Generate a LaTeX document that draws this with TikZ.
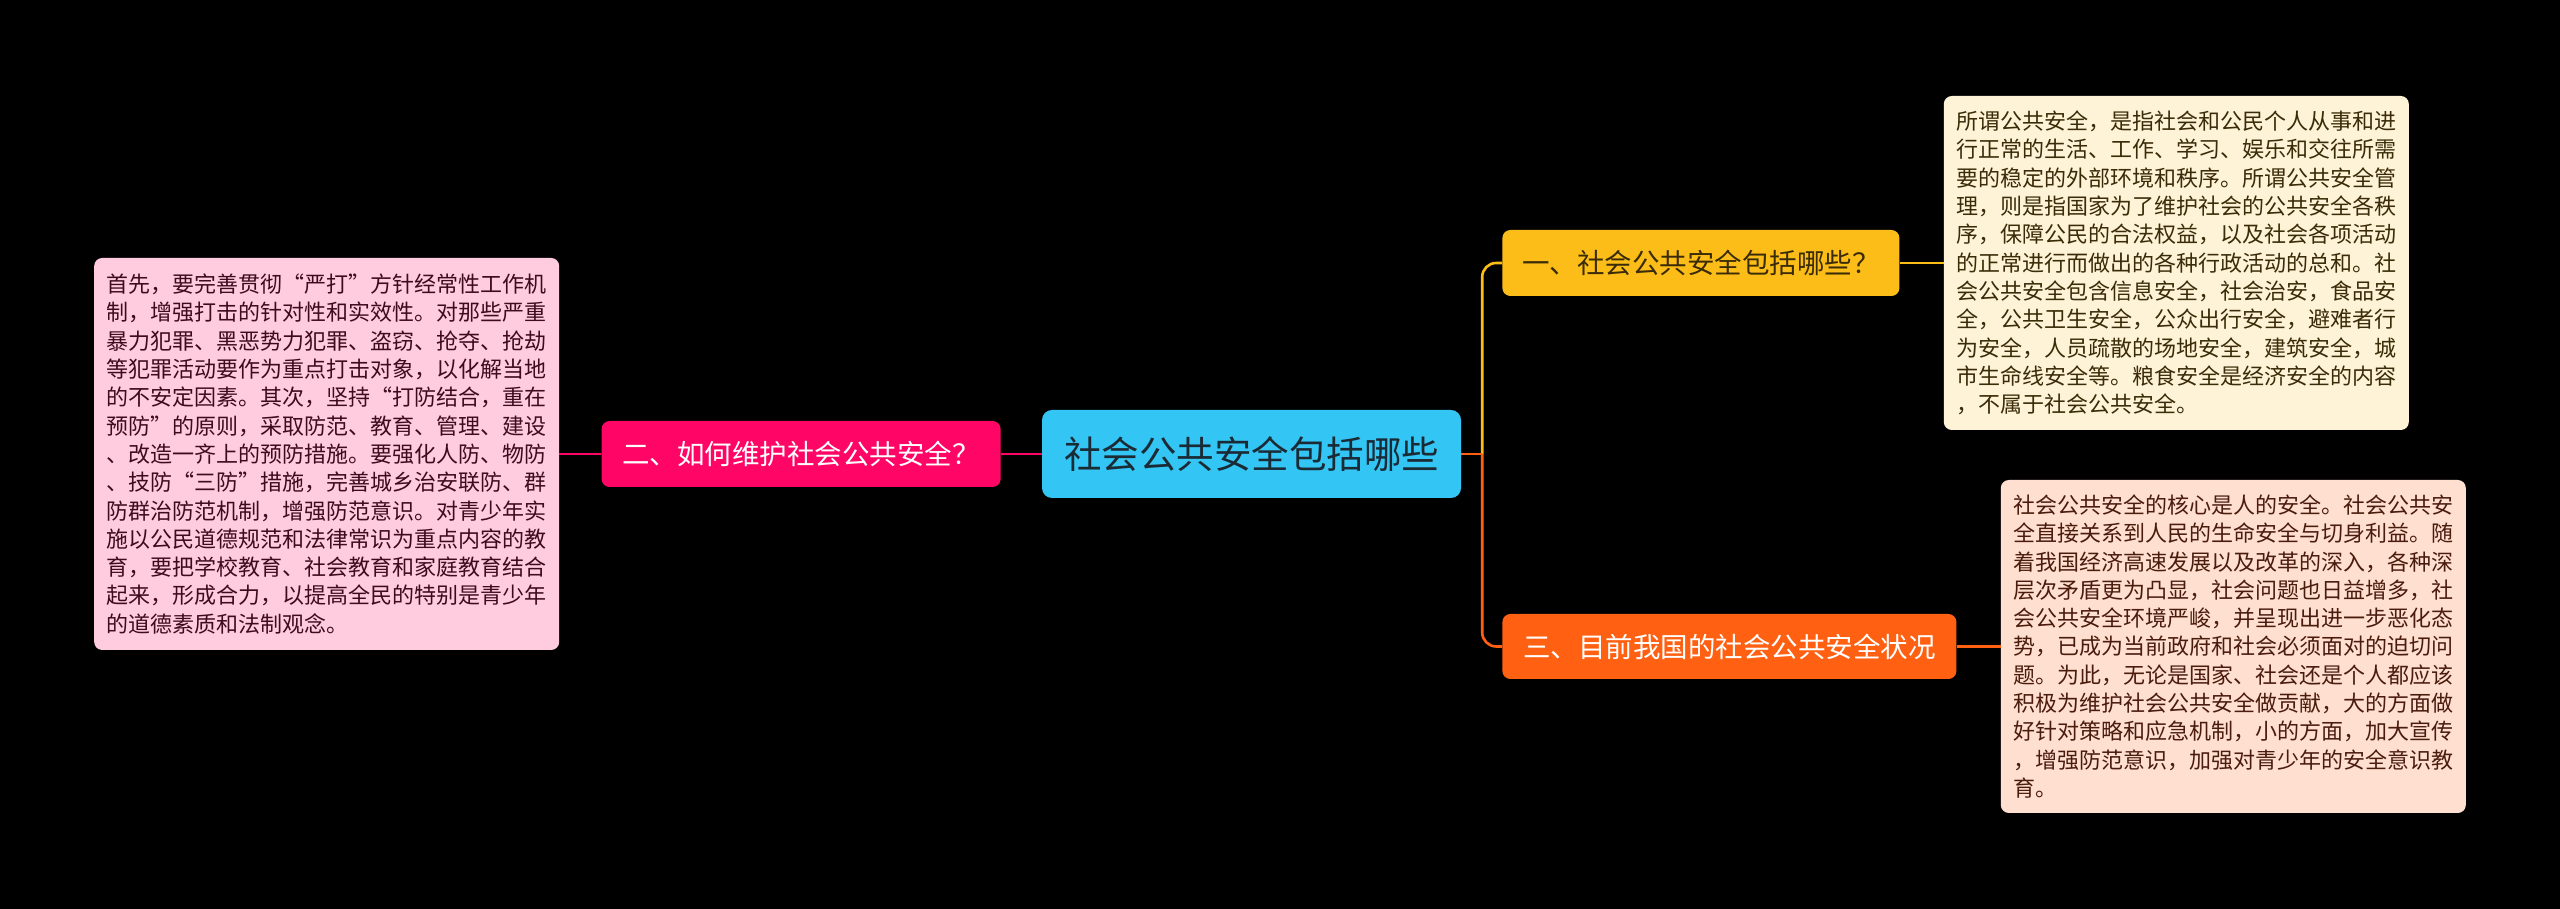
\documentclass[tikz,border=0pt]{standalone}
\usepackage{fontspec}
\setmainfont{Noto Sans CJK SC}
\usetikzlibrary{positioning}

\definecolor{rootcyan}{HTML}{33C5F3}
\definecolor{rootink}{HTML}{1B2B36}
\definecolor{pinkbranch}{HTML}{FE0566}
\definecolor{pinknote}{HTML}{FFCCDF}
\definecolor{pinkink}{HTML}{3D0A1E}
\definecolor{yellowbranch}{HTML}{FDBD18}
\definecolor{yellownote}{HTML}{FFF3D7}
\definecolor{yellowink}{HTML}{3A2C08}
\definecolor{orangebranch}{HTML}{FF6012}
\definecolor{orangenote}{HTML}{FFDFCF}
\definecolor{orangeink}{HTML}{4A1C0E}

\begin{document}
\begin{tikzpicture}[
    mainbox/.style={rectangle, rounded corners=10pt, fill=rootcyan, text=rootink, minimum width=419pt, minimum height=88pt, font=\fontsize{37.5pt}{40pt}\selectfont},
    branch/.style={rectangle, rounded corners=8pt, minimum height=66pt, font=\fontsize{27.5pt}{30pt}\selectfont},
    notebox/.style={rectangle, rounded corners=8pt, align=left, inner xsep=12pt, minimum width=465pt, font=\fontsize{22pt}{28.3pt}\selectfont},
    link/.style={line width=2.6pt}
]

\fill[black] (0,0) rectangle (2560pt,909pt);
\useasboundingbox (0,0) rectangle (2560pt,909pt);

\node[mainbox] (root) at (1251.5pt,455pt) {社会公共安全包括哪些};

% left side
\node[branch, left=41pt of root, fill=pinkbranch, text=white, minimum width=399pt] (q2) {二、如何维护社会公共安全？};
\node[notebox, left=42pt of q2, fill=pinknote, text=pinkink, minimum height=392pt] (n2) {首先，要完善贯彻“严打”方针经常性工作机\\
制，增强打击的针对性和实效性。对那些严重\\
暴力犯罪、黑恶势力犯罪、盗窃、抢夺、抢劫\\
等犯罪活动要作为重点打击对象，以化解当地\\
的不安定因素。其次，坚持“打防结合，重在\\
预防”的原则，采取防范、教育、管理、建设\\
、改造一齐上的预防措施。要强化人防、物防\\
、技防“三防”措施，完善城乡治安联防、群\\
防群治防范机制，增强防范意识。对青少年实\\
施以公民道德规范和法律常识为重点内容的教\\
育，要把学校教育、社会教育和家庭教育结合\\
起来，形成合力，以提高全民的特别是青少年\\
的道德素质和法制观念。};

% right side
\node[branch, right=41pt of root, yshift=191pt, fill=yellowbranch, text=yellowink, minimum width=397pt] (q1) {一、社会公共安全包括哪些？};
\node[branch, right=41pt of root, yshift=-192.5pt, fill=orangebranch, text=white, minimum width=454pt, minimum height=65pt] (q3) {三、目前我国的社会公共安全状况};

\node[notebox, right=44pt of q1, fill=yellownote, text=yellowink, minimum height=334pt] (n1) {所谓公共安全，是指社会和公民个人从事和进\\
行正常的生活、工作、学习、娱乐和交往所需\\
要的稳定的外部环境和秩序。所谓公共安全管\\
理，则是指国家为了维护社会的公共安全各秩\\
序，保障公民的合法权益，以及社会各项活动\\
的正常进行而做出的各种行政活动的总和。社\\
会公共安全包含信息安全，社会治安，食品安\\
全，公共卫生安全，公众出行安全，避难者行\\
为安全，人员疏散的场地安全，建筑安全，城\\
市生命线安全等。粮食安全是经济安全的内容\\
，不属于社会公共安全。};
\node[notebox, right=44pt of q3, fill=orangenote, text=orangeink, minimum height=333pt] (n3) {社会公共安全的核心是人的安全。社会公共安\\
全直接关系到人民的生命安全与切身利益。随\\
着我国经济高速发展以及改革的深入，各种深\\
层次矛盾更为凸显，社会问题也日益增多，社\\
会公共安全环境严峻，并呈现出进一步恶化态\\
势，已成为当前政府和社会必须面对的迫切问\\
题。为此，无论是国家、社会还是个人都应该\\
积极为维护社会公共安全做贡献，大的方面做\\
好针对策略和应急机制，小的方面，加大宣传\\
，增强防范意识，加强对青少年的安全意识教\\
育。};

\coordinate[right=21pt of root] (fork);

\draw[link, pinkbranch] (root) -- (q2);
\draw[link, pinkbranch] (q2) -- (n2);
\draw[link, yellowbranch, rounded corners=14pt] (fork) |- (q1.west);
\draw[link, orangebranch, rounded corners=14pt] (fork) |- (q3.west);
\draw[link, orangebranch] (root.east) -- (fork);
\draw[link, yellowbranch] (q1) -- (n1);
\draw[link, orangebranch] (q3) -- (n3);

\end{tikzpicture}
\end{document}
